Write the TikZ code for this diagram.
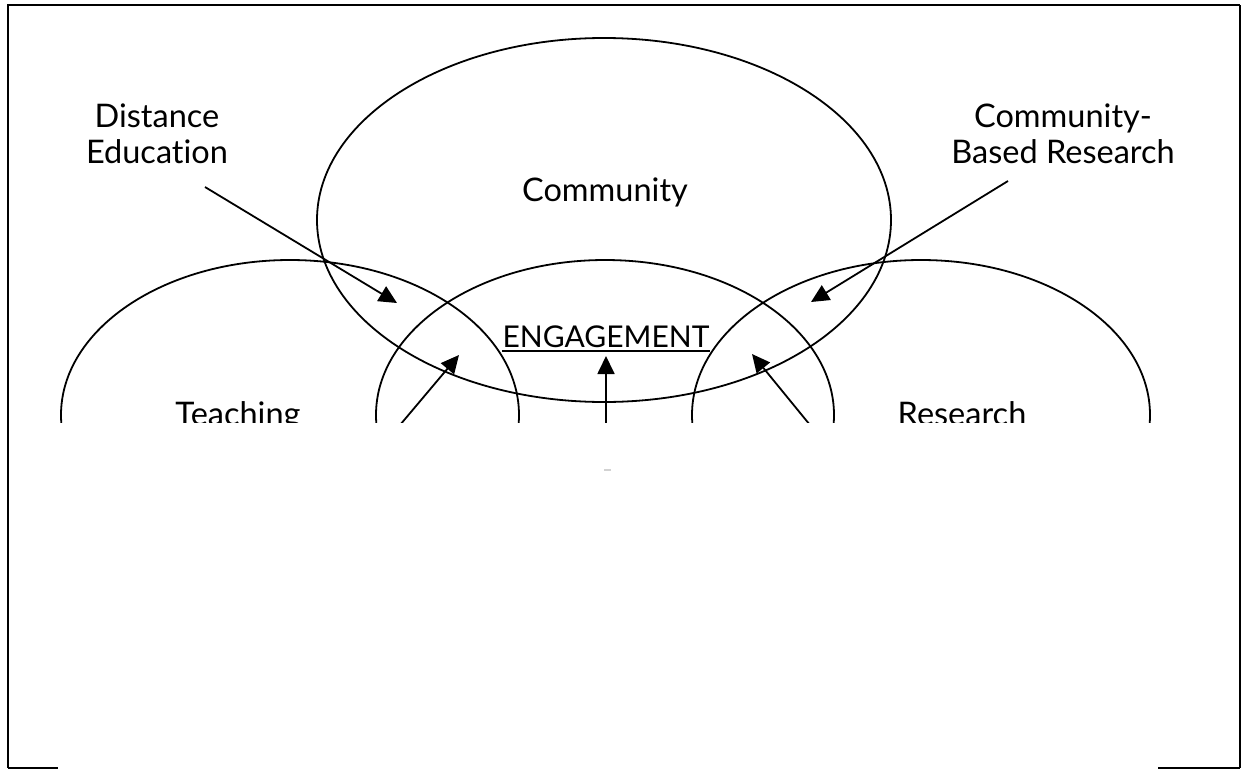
\documentclass[tikz,border=0pt]{standalone}
\usepackage{fontspec}
\setmainfont{Lato}[Ligatures=NoCommon]
\usepackage{tikz}
\usetikzlibrary{arrows.meta,positioning,calc}

\begin{document}
\begin{tikzpicture}[x=1pt,y=-1pt,
    lbl/.style={font=\fontsize{32.5}{36}\selectfont, inner sep=0pt, align=center},
    ring/.style={line width=1.8pt},
    arr/.style={line width=1.8pt, -{Triangle[length=18pt,width=17pt]}}]
\useasboundingbox (0,0) rectangle (1245,771);
% frame
\draw[line width=2.5pt] (8,768) -- (8,5) -- (1240,5);
\draw[line width=1.5pt] (1240,5) -- (1240,768);
\draw[line width=1.5pt] (8,768) -- (58,768) (1158,768) -- (1240,768);

\node[lbl] (dist) at (157,134) {Distance\\Education};
\node[lbl] (cbr) at (1063,134) {Community-\\Based Research};
\coordinate (distFrom) at (205,187);
\coordinate (distTip) at (397,303);
\coordinate (cbrFrom) at (1008,181);
\coordinate (cbrTip) at (811,302);
\draw[arr] (distFrom) -- (distTip);
\draw[arr] (cbrFrom) -- (cbrTip);

\begin{scope}
    \clip (0,0) rectangle (1245,422);
    \draw[ring] (604,220) ellipse (287 and 182);
    \foreach \cx in {290,605,921}{
        \draw[ring] (\cx,415) ellipse (229 and 155);
    }
    \node[lbl, anchor=base] (community) at (605,201) {Community};
    \node[lbl, anchor=base] (teaching) at (238,425) {Teaching};
    \node[lbl, anchor=base] (research) at (962,425) {Research};
    \node[lbl, font=\fontsize{30}{36}\selectfont, anchor=base] (engage) at (606,347) {ENGAGEMENT};
    \draw[line width=1.4pt] ([yshift=-4pt]engage.base west) -- ([yshift=-4pt]engage.base east);
    \coordinate (tFrom) at (400,425);
    \coordinate (tTip) at (459,355);
    \coordinate (mFrom) at (606,425);
    \coordinate (mTip) at (606,356);
    \coordinate (rFrom) at (810,425);
    \coordinate (rTip) at (752,354);
    \draw[arr] (tFrom) -- (tTip);
    \draw[arr] (mFrom) -- (mTip);
    \draw[arr] (rFrom) -- (rTip);
\end{scope}
\draw[gray!35, line width=1.5pt] (604,470) -- (611,470);
\end{tikzpicture}
\end{document}
